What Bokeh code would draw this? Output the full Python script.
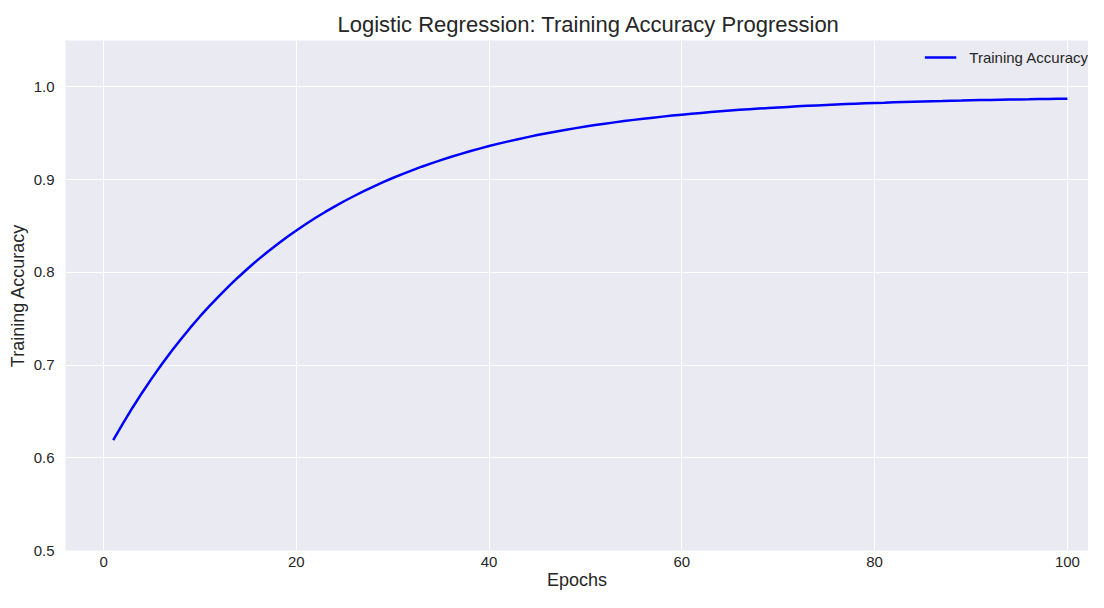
from bokeh.plotting import figure
from bokeh.models import Range1d, FixedTicker, Legend, LegendItem, PrintfTickFormatter
from bokeh.embed import file_html
from bokeh.resources import INLINE

epochs = list(range(1, 101))
accuracy = [
    0.6190, 0.6369, 0.6540, 0.6702, 0.6856, 0.7003, 0.7143, 0.7276, 0.7403, 0.7524,
    0.7638, 0.7747, 0.7851, 0.7950, 0.8044, 0.8134, 0.8219, 0.8300, 0.8378, 0.8451,
    0.8521, 0.8588, 0.8651, 0.8711, 0.8769, 0.8823, 0.8875, 0.8925, 0.8972, 0.9017,
    0.9059, 0.9100, 0.9139, 0.9175, 0.9210, 0.9244, 0.9275, 0.9305, 0.9334, 0.9362,
    0.9388, 0.9412, 0.9436, 0.9458, 0.9480, 0.9500, 0.9519, 0.9538, 0.9555, 0.9572,
    0.9588, 0.9603, 0.9617, 0.9631, 0.9644, 0.9656, 0.9668, 0.9679, 0.9690, 0.9700,
    0.9710, 0.9719, 0.9728, 0.9736, 0.9744, 0.9752, 0.9759, 0.9766, 0.9772, 0.9778,
    0.9784, 0.9790, 0.9795, 0.9800, 0.9805, 0.9810, 0.9814, 0.9818, 0.9822, 0.9826,
    0.9829, 0.9833, 0.9836, 0.9839, 0.9842, 0.9845, 0.9847, 0.9850, 0.9852, 0.9855,
    0.9857, 0.9859, 0.9861, 0.9863, 0.9865, 0.9866, 0.9868, 0.9870, 0.9871, 0.9872,
]
x_ticks = [0, 20, 40, 60, 80, 100]
y_ticks = [0.5, 0.6, 0.7, 0.8, 0.9, 1.0]
title_text = "Logistic Regression:  Training Accuracy Progression"

FONT = "Liberation Sans"
TXT = "#262626"

p = figure(width=1088, height=592, output_backend="svg", toolbar_location=None,
           x_range=Range1d(-3.95, 102.19), y_range=Range1d(0.5, 1.05),
           min_border_left=65, min_border_right=0, min_border_top=40, min_border_bottom=36)

p.title.text = title_text
p.title.align = "left"
p.title.offset = 272
p.title.text_font = FONT
p.title.text_font_size = "22px"
p.title.text_font_style = "normal"
p.title.text_color = TXT
p.title.standoff = 7

p.background_fill_color = "#EAEAF2"
p.border_fill_color = "white"
p.outline_line_color = None

for ax in (p.xaxis, p.yaxis):
    ax.axis_line_color = None
    ax.major_tick_line_color = None
    ax.minor_tick_line_color = None
    ax.major_label_text_font = FONT
    ax.major_label_text_font_size = "15px"
    ax.major_label_text_color = TXT
    ax.axis_label_text_font = FONT
    ax.axis_label_text_font_size = "18px"
    ax.axis_label_text_font_style = "normal"
    ax.axis_label_text_color = TXT

p.xaxis.ticker = FixedTicker(ticks=x_ticks)
p.yaxis.ticker = FixedTicker(ticks=y_ticks)
p.yaxis.formatter = PrintfTickFormatter(format="%.1f")
p.xaxis.axis_label = "Epochs"
p.yaxis.axis_label = "Training Accuracy"
p.xaxis.major_label_standoff = 0
p.yaxis.major_label_standoff = 5
p.xaxis.axis_label_standoff = 0
p.yaxis.axis_label_standoff = 3

p.grid.grid_line_color = "white"
p.grid.grid_line_width = 1

r = p.line(epochs, accuracy, line_color="#0000FF", line_width=2.5)

legend = Legend(items=[LegendItem(label="Training Accuracy", renderers=[r])],
                location="top_right")
legend.background_fill_alpha = 0
legend.border_line_color = None
legend.label_text_font = FONT
legend.label_text_font_size = "15px"
legend.label_text_color = TXT
legend.glyph_width = 32
legend.glyph_height = 34
legend.label_height = 34
legend.label_standoff = 13
legend.padding = 2
legend.margin = 0
p.add_layout(legend)

open("out.html", "w").write(file_html(p, INLINE))
